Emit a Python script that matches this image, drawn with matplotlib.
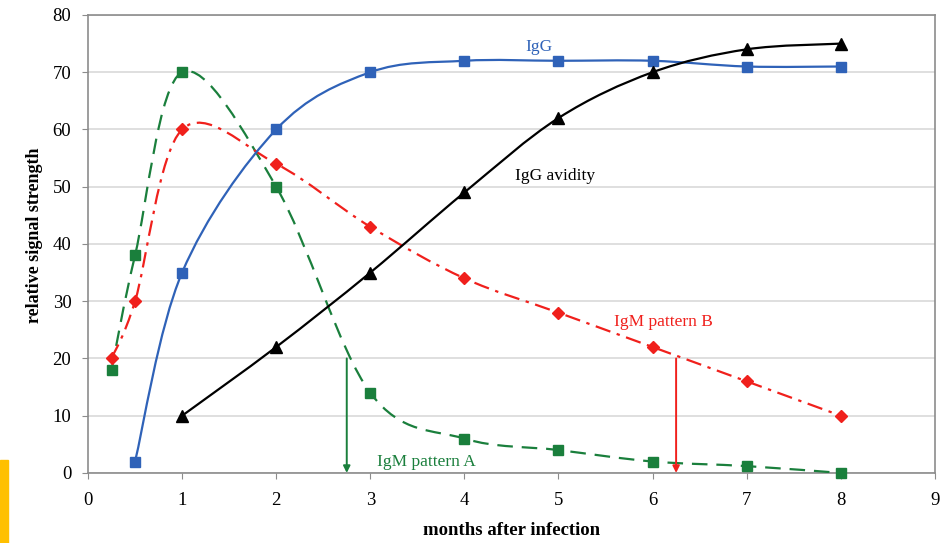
import numpy as np
import matplotlib
matplotlib.use("Agg")
import matplotlib.pyplot as plt
from matplotlib.path import Path
from matplotlib.patches import PathPatch, Rectangle

# =========================
# Data
# =========================
igg_x = [0.5, 1, 2, 3, 4, 5, 6, 7, 8]
igg_y = [2, 35, 60, 70, 72, 72, 72, 71, 71]

avid_x = [1, 2, 3, 4, 5, 6, 7, 8]
avid_y = [10, 22, 35, 49, 62, 70, 74, 75]

igm_a_x = [0.25, 0.5, 1, 2, 3, 4, 5, 6, 7, 8]
igm_a_y = [18, 38, 70, 50, 14, 6, 4, 2, 1.2, 0]

igm_b_x = [0.25, 0.5, 1, 2, 3, 4, 5, 6, 7, 8]
igm_b_y = [20, 30, 60, 54, 43, 34, 28, 22, 16, 10]

# cut-off arrows (x position, top value)
arrow_a = (2.75, 20)
arrow_b = (6.25, 20)

BLUE = "#2f62b8"
GREEN = "#1a7f3c"
RED = "#f0201c"
BLACK = "#000000"

plt.rcParams["font.family"] = ["Liberation Serif", "DejaVu Serif"]


# =========================
# Excel-like smoothed line (Bezier through the points)
# =========================
def smooth_path(xs, ys):
    pts = np.column_stack([xs, ys]).astype(float)
    n = len(pts)
    verts = [pts[0]]
    codes = [Path.MOVETO]
    for i in range(n - 1):
        p0 = pts[i - 1] if i > 0 else pts[i]
        p1 = pts[i]
        p2 = pts[i + 1]
        p3 = pts[i + 2] if i + 2 < n else pts[i + 1]
        c1 = p1 + (p2 - p0) / 6.0
        c2 = p2 - (p3 - p1) / 6.0
        verts += [c1, c2, p2]
        codes += [Path.CURVE4] * 3
    return Path(verts, codes)


def draw_series(ax, xs, ys, color, ls, marker, ms):
    patch = PathPatch(smooth_path(xs, ys), fill=False, edgecolor=color,
                      lw=1.6, linestyle=ls, zorder=3)
    ax.add_patch(patch)
    ax.plot(xs, ys, linestyle="none", marker=marker, ms=ms,
            color=color, zorder=4, clip_on=False)


fig = plt.figure(figsize=(9.41, 5.43), dpi=100)
ax = fig.add_axes([0.0935, 0.129, 0.9, 0.8434])

draw_series(ax, igm_a_x, igm_a_y, GREEN, (0, (7, 4)), "s", 7.5)
draw_series(ax, igm_b_x, igm_b_y, RED, (0, (7, 3, 1.5, 3)), "D", 6.5)
draw_series(ax, igg_x, igg_y, BLUE, "-", "s", 7)
draw_series(ax, avid_x, avid_y, BLACK, "-", "^", 9)

# arrows
for (ax_x, ax_top), col in [(arrow_a, GREEN), (arrow_b, RED)]:
    ax.annotate("", xy=(ax_x, 0), xytext=(ax_x, ax_top),
                arrowprops=dict(arrowstyle="-|>", color=col, lw=1.4,
                                mutation_scale=10, shrinkA=0, shrinkB=0),
                zorder=5)

# series labels
ax.text(4.79, 74.4, "IgG", color=BLUE, fontsize=12.5, ha="center", va="center")
ax.text(4.96, 51.9, "IgG avidity", color=BLACK, fontsize=12.5, ha="center", va="center")
ax.text(6.12, 26.4, "IgM pattern B", color=RED, fontsize=12.5, ha="center", va="center")
ax.text(3.6, 1.9, "IgM pattern A", color=GREEN, fontsize=12.5, ha="center", va="center")

ax.set_xlim(0, 9)
ax.set_ylim(0, 80)
ax.set_xticks(range(0, 10))
ax.set_yticks(range(0, 81, 10))
ax.yaxis.grid(True, color="#d9d9d9", lw=1.2)
ax.set_axisbelow(True)
for s in ax.spines.values():
    s.set_color("#8c8c8c")
    s.set_linewidth(1.2)
ax.tick_params(axis="both", colors="#8c8c8c", labelcolor="black", labelsize=13.5,
               length=4)
ax.tick_params(axis="x", pad=10)
ax.tick_params(axis="y", pad=8)

ax.set_xlabel("months after infection", fontsize=13.5, fontweight="bold")
ax.set_ylabel("relative signal strength", fontsize=13, fontweight="bold")
ax.xaxis.set_label_coords(0.5, -0.108)
ax.yaxis.set_label_coords(-0.053, 0.52)

# orange strip at lower left edge
fig.patches.append(Rectangle((0, 0), 8 / 941, 83 / 543, transform=fig.transFigure,
                             color="#ffc000", zorder=10))

fig.savefig("out.png", dpi=100)
